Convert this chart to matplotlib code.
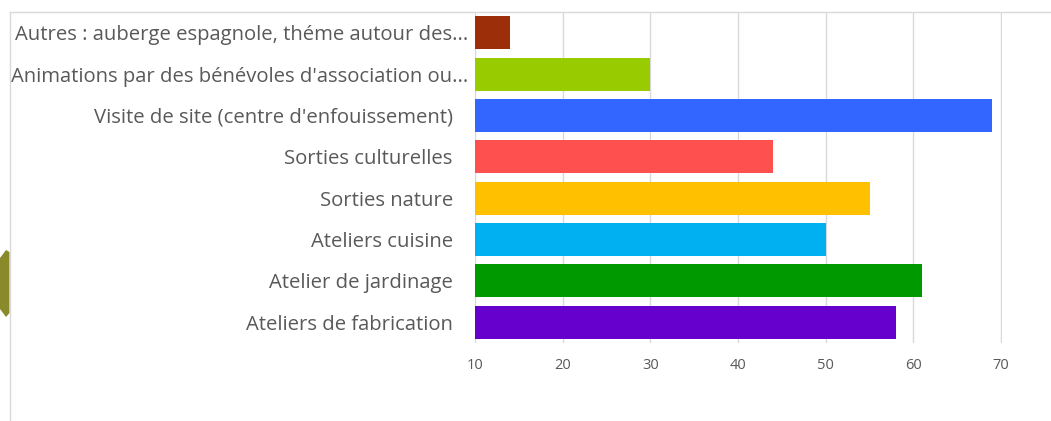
import matplotlib
matplotlib.use("Agg")
import matplotlib.pyplot as plt
from matplotlib.patches import Polygon
from matplotlib.lines import Line2D
from matplotlib.transforms import ScaledTranslation

categories = [
    "Autres : auberge espagnole, théme autour des...",
    "Animations par des bénévoles d'association ou...",
    "Visite de site (centre d'enfouissement)",
    "Sorties culturelles",
    "Sorties nature",
    "Ateliers cuisine",
    "Atelier de jardinage",
    "Ateliers de fabrication",
]
values = [14, 30, 69, 44, 55, 50, 61, 58]
colors = ["#9C2E0A", "#99CC00", "#3366FF", "#FF5050", "#FFC000", "#00B0F0", "#009900", "#6600CC"]
xticks = [10, 20, 30, 40, 50, 60, 70]
truncated = [0, 1]

W, H = 1051, 421
fig = plt.figure(figsize=(W / 100, H / 100), dpi=100)
fig.patch.set_facecolor("white")

# chart frame lines and decorative shape
fig.add_artist(Line2D([10 / W, 10 / W], [0, 1 - 12 / H], color="#d9d9d9", lw=1))
fig.add_artist(Line2D([10 / W, 1], [1 - 12 / H, 1 - 12 / H], color="#d9d9d9", lw=1))
hexpts = [(0, 258), (6, 250), (9.5, 252), (9.5, 313), (6, 317), (0, 309)]
fig.add_artist(Polygon([(x / W, 1 - y / H) for x, y in hexpts], closed=True,
                       facecolor="#8A8A2A", edgecolor="none", transform=fig.transFigure))

ax = fig.add_axes([475 / W, 1 - 343 / H, (1002 - 475) / W, (343 - 12) / H])
ypos = list(range(len(categories)))
ax.barh(ypos, [v - 10 for v in values], left=10, height=0.8, color=colors,
        edgecolor="none", zorder=3)
ax.set_xlim(10, 70.1)
ax.set_ylim(len(categories) - 0.5, -0.5)
ax.set_xticks(xticks)
ax.set_xticklabels([str(t) for t in xticks])
ax.set_yticks(ypos)
ax.set_yticklabels(categories)
ax.grid(axis="x", color="#d9d9d9", lw=1, zorder=0)
for s in ax.spines.values():
    s.set_visible(False)
ax.tick_params(axis="y", length=0, pad=16, labelsize=14.6, labelcolor="#595959")
ax.tick_params(axis="x", length=0, pad=11, labelsize=10.5, labelcolor="#595959")
for lab in ax.get_yticklabels():
    lab.set_fontfamily("Open Sans")
for lab in ax.get_xticklabels():
    lab.set_fontfamily("Open Sans")
for i in truncated:
    lab = ax.get_yticklabels()[i]
    lab.set_transform(lab.get_transform() + ScaledTranslation(15 / 100, 0, fig.dpi_scale_trans))

fig.savefig("out.png", dpi=100)
